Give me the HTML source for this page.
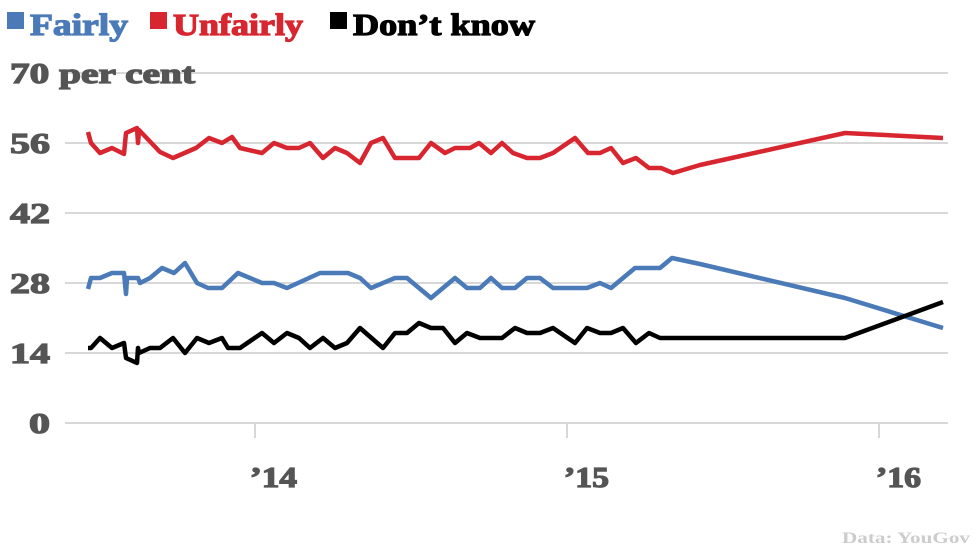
<!DOCTYPE html>
<html><head><meta charset="utf-8"><style>
body{margin:0;background:#fff;width:980px;height:551px;overflow:hidden;font-family:"Liberation Serif",serif}
</style></head><body>
<svg width="980" height="551" xmlns="http://www.w3.org/2000/svg">
<g font-family="Liberation Serif, serif" font-weight="bold" font-size="31" stroke-width="1.2">
<rect x="7" y="12" width="17" height="17" fill="#4a7ab8"/><text x="30" y="35" fill="#4a7ab8" stroke="#4a7ab8" textLength="98" lengthAdjust="spacingAndGlyphs">Fairly</text>
<rect x="150" y="12" width="17" height="17" fill="#d7262f"/><text x="173" y="35" fill="#d7262f" stroke="#d7262f" textLength="130" lengthAdjust="spacingAndGlyphs">Unfairly</text>
<rect x="330" y="12" width="17" height="17" fill="#000"/><text x="353" y="35" fill="#000" stroke="#000" textLength="182" lengthAdjust="spacingAndGlyphs">Don’t know</text>
</g>
<g stroke="#d8d8d8" stroke-width="2">
<line x1="65" x2="948" y1="73" y2="73"/><line x1="65" x2="948" y1="143" y2="143"/><line x1="65" x2="948" y1="213" y2="213"/><line x1="65" x2="948" y1="283" y2="283"/><line x1="65" x2="948" y1="353" y2="353"/><line x1="65" x2="948" y1="423" y2="423"/>
<line x1="255" x2="255" y1="423" y2="438"/><line x1="567" x2="567" y1="423" y2="438"/><line x1="879" x2="879" y1="423" y2="438"/>
</g>
<g font-family="Liberation Serif, serif" font-weight="bold" font-size="28" fill="#555" stroke="#555" stroke-width="1.2">
<text x="10" y="83" textLength="185" lengthAdjust="spacingAndGlyphs">70 per cent</text><text x="10" y="153" textLength="40" lengthAdjust="spacingAndGlyphs">56</text><text x="10" y="223" textLength="40" lengthAdjust="spacingAndGlyphs">42</text><text x="10" y="293" textLength="40" lengthAdjust="spacingAndGlyphs">28</text><text x="10" y="363" textLength="40" lengthAdjust="spacingAndGlyphs">14</text><text x="29" y="433" textLength="21" lengthAdjust="spacingAndGlyphs">0</text>
<text x="250" y="487" textLength="47" lengthAdjust="spacingAndGlyphs">’14</text><text x="564" y="487" textLength="45" lengthAdjust="spacingAndGlyphs">’15</text><text x="876" y="487" textLength="45" lengthAdjust="spacingAndGlyphs">’16</text>
</g>
<text x="970" y="543" text-anchor="end" font-family="Liberation Serif, serif" font-weight="bold" font-size="16" fill="#ccc" textLength="128" lengthAdjust="spacingAndGlyphs">Data: YouGov</text>
<g fill="none" stroke-width="4.5" stroke-linejoin="round">
<polyline stroke="#d7262f" points="88,132 91,143 100,153 112,148 124,154 126,133 137,128 138,143 139,130 160,152 173,158 196,148 209,138 222,143 232,137 240,148 262,153 274,143 287,148 299,148 310,143 323,158 335,148 347,153 360,163 371,143 383,138 395,158 419,158 431,143 445,153 455,148 470,148 479,143 491,153 502,143 513,153 527,158 540,158 553,153 575,138 588,153 600,153 611,148 623,163 636,158 649,168 661,168 673,173 700,165 845,133 943,138"/>
<polyline stroke="#4a7ab8" points="88,289 91,278 100,278 112,273 124,273 126,294 127,278 138,278 140,283 150,278 162,268 174,273 185,263 197,283 208,288 222,288 238,273 262,283 274,283 287,288 320,273 348,273 360,278 371,288 395,278 407,278 431,298 455,278 467,288 480,288 491,278 502,288 515,288 527,278 540,278 553,288 587,288 600,283 611,288 635,268 660,268 672,258 700,264 845,298 943,328"/>
<polyline stroke="#000" points="88,348 91,348 100,338 112,348 124,343 126,358 137,363 138,348 139,353 150,348 160,348 173,338 185,353 197,338 209,343 222,338 228,348 240,348 262,333 274,343 287,333 299,338 310,348 323,338 335,348 347,343 360,328 383,348 395,333 407,333 419,323 431,328 443,328 455,343 467,333 480,338 502,338 515,328 527,333 540,333 553,328 575,343 587,328 600,333 611,333 623,328 636,343 649,333 660,338 700,338 845,338 943,302"/>
</g>
</svg>
</body></html>
